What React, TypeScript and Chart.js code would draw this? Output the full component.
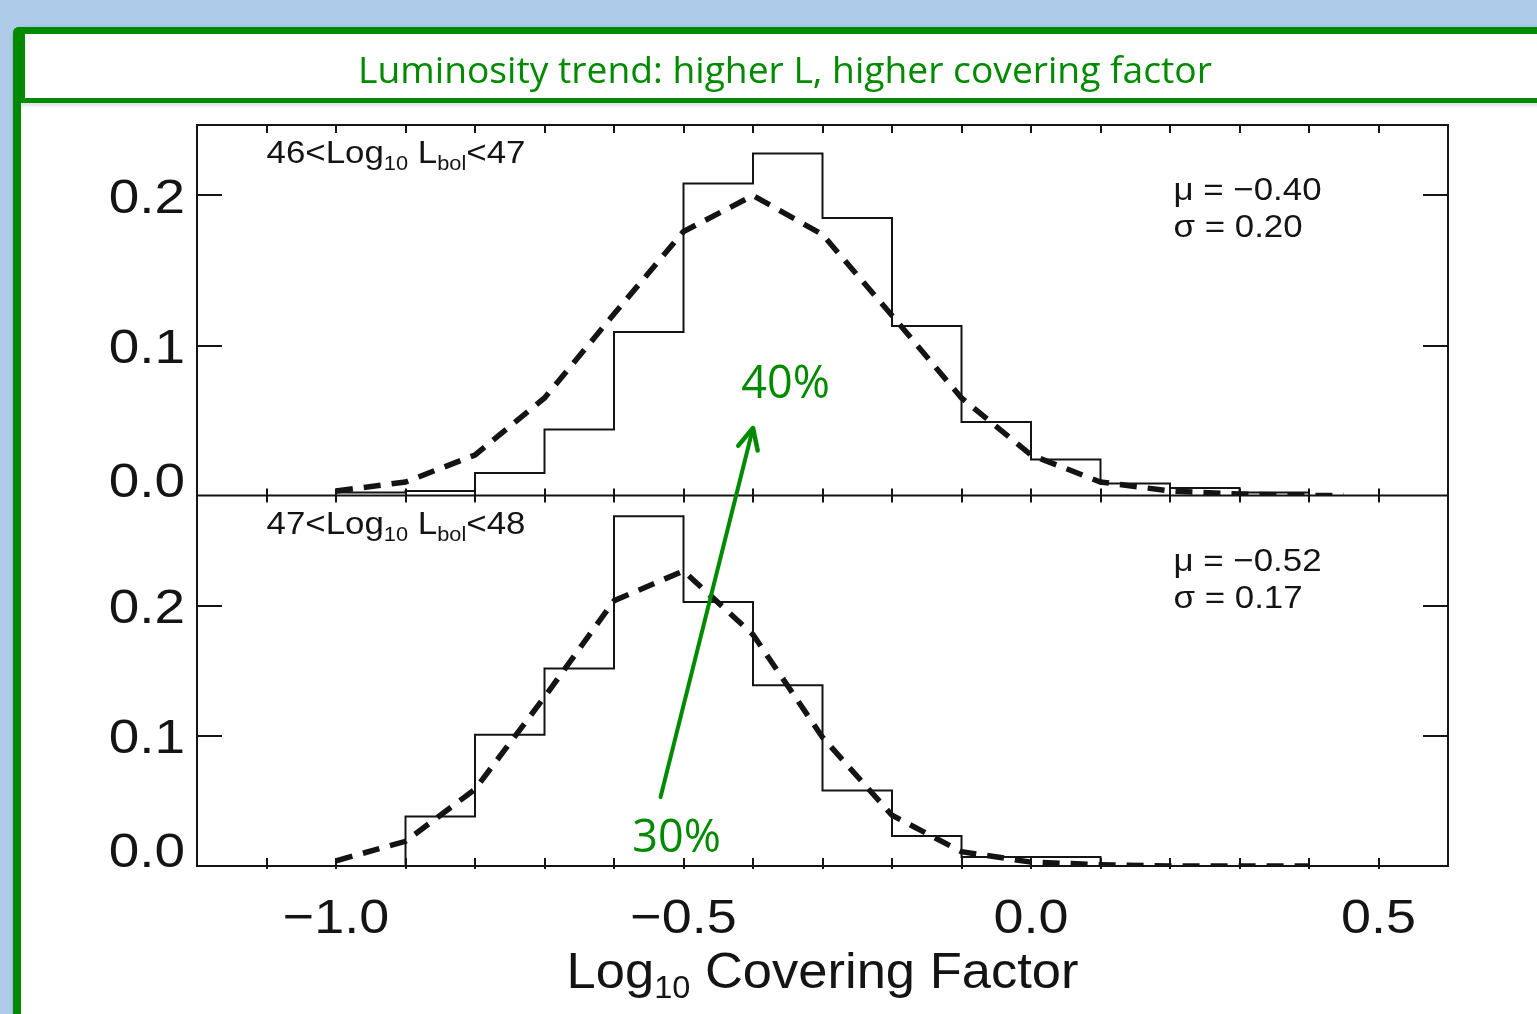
import React, { useEffect, useRef } from "react";
import { Chart, registerables } from "chart.js";

Chart.register(...registerables);

// ---------- axis ranges & ticks ----------
const X_MIN = -1.2;
const X_MAX = 0.6;
const X_MINOR_STEP = 0.1;
const Y_TOP_MAX = 0.247;
const Y_BOT_MAX = 0.285;
const X_TICK_VALUES = [-1.0, -0.5, 0.0, 0.5];
const X_TICK_LABELS = ["\u22121.0", "\u22120.5", "0.0", "0.5"];
const Y_TICK_VALUES = [0.0, 0.1, 0.2];
const Y_TICK_LABELS = ["0.0", "0.1", "0.2"];

// ---------- histograms (left bin edges, bin width 0.1) ----------
const BIN_WIDTH = 0.1;
const BIN_EDGES_TOP = [-1.0, -0.9, -0.8, -0.7, -0.6, -0.5, -0.4, -0.3, -0.2, -0.1, 0.0, 0.1, 0.2, 0.3];
const HIST_TOP = [0.002, 0.003, 0.015, 0.044, 0.109, 0.208, 0.228, 0.185, 0.113, 0.049, 0.024, 0.008, 0.005, 0.002];
const BIN_EDGES_BOT = [-0.9, -0.8, -0.7, -0.6, -0.5, -0.4, -0.3, -0.2, -0.1, 0.0];
const HIST_BOT = [0.038, 0.101, 0.152, 0.269, 0.203, 0.139, 0.058, 0.023, 0.007, 0.007];

// ---------- Gaussian fit curves (dashed) ----------
const CURVE_X_TOP = [-1.0, -0.9, -0.8, -0.7, -0.6, -0.5, -0.4, -0.3, -0.2, -0.1, 0.0, 0.1, 0.2, 0.3, 0.4, 0.45];
const CURVE_TOP = [0.003, 0.009, 0.027, 0.065, 0.121, 0.176, 0.2, 0.174, 0.12, 0.065, 0.027, 0.009, 0.003, 0.001, 0.0, 0.0];
const CURVE_X_BOT = [-1.0, -0.9, -0.8, -0.7, -0.6, -0.5, -0.4, -0.3, -0.2, -0.1, 0.0, 0.1, 0.2, 0.3, 0.4];
const CURVE_BOT = [0.004, 0.019, 0.059, 0.13, 0.204, 0.227, 0.178, 0.099, 0.039, 0.011, 0.003, 0.001, 0.0, 0.0, 0.0];

// ---------- texts ----------
const SLIDE_TITLE = "Luminosity trend: higher L, higher covering factor";
const PANEL_LABEL_TOP = [["46<Log", 0], ["10", 1], [" L", 0], ["bol", 1], ["<47", 0]];
const PANEL_LABEL_BOT = [["47<Log", 0], ["10", 1], [" L", 0], ["bol", 1], ["<48", 0]];
const STATS_TOP = ["\u03bc = \u22120.40", "\u03c3 = 0.20"];
const STATS_BOT = ["\u03bc = \u22120.52", "\u03c3 = 0.17"];
const AXIS_TITLE = [["Log", 0], ["10", 1], [" Covering Factor", 0]];
const PCT_TOP = "40%";
const PCT_BOT = "30%";
// annotation anchors in data units
const PCT_TOP_AT = { x: -0.353, y: 0.065 };
const PCT_BOT_AT = { x: -0.51, y: 0.011 };
const ARROW_FROM = { x: -0.533, y: 0.053 }; // bottom panel
const ARROW_TO = { x: -0.4, y: 0.045 }; // top panel
const STATS_X = 0.205;
const PANEL_LABEL_X = -1.1;

const GREEN = "#008A00";
const INK = "#141414";
const HELV = '"Liberation Sans", Arial, Helvetica, sans-serif';
const SLIDE_FONT = '"Open Sans", "Noto Sans", sans-serif';

function histPoints(edges: number[], vals: number[]) {
  const pts: { x: number; y: number }[] = [{ x: edges[0], y: 0 }];
  edges.forEach((e, i) => pts.push({ x: e, y: vals[i] }));
  pts.push({ x: edges[edges.length - 1] + BIN_WIDTH, y: 0 });
  return pts;
}

function stretchText(ctx: CanvasRenderingContext2D, text: string, x: number, y: number, sx: number, align: CanvasTextAlign) {
  ctx.save();
  ctx.translate(x, y);
  ctx.scale(sx, 1);
  ctx.textAlign = align;
  ctx.textBaseline = "alphabetic";
  ctx.fillText(text, 0, 0);
  ctx.restore();
}

function drawRich(ctx: CanvasRenderingContext2D, parts: any[], x: number, y: number, size: number, subSize: number, subDrop: number, align: string, sx: number) {
  let total = 0;
  const widths = parts.map(([t, sub]) => {
    ctx.font = `${sub ? subSize : size}px ${HELV}`;
    const w = ctx.measureText(t).width * sx;
    total += w;
    return w;
  });
  let cx = align === "center" ? x - total / 2 : x;
  parts.forEach(([t, sub], i) => {
    ctx.font = `${sub ? subSize : size}px ${HELV}`;
    stretchText(ctx, t, cx, y + (sub ? subDrop : 0), sx, "left");
    cx += widths[i];
  });
}

const decorPlugin = {
  id: "decor",
  afterDraw(chart: any) {
    const ctx: CanvasRenderingContext2D = chart.ctx;
    const xs = chart.scales.x;
    const yt = chart.scales.yTop;
    const yb = chart.scales.yBot;
    const L = xs.left, R = xs.right;
    const T = yt.top, M = yt.bottom, B = yb.bottom;
    ctx.save();

    // slide title
    ctx.font = `100px ${SLIDE_FONT}`;
    const tw = ctx.measureText(SLIDE_TITLE).width;
    const ts = (100 * 854) / tw;
    ctx.font = `${ts}px ${SLIDE_FONT}`;
    ctx.fillStyle = GREEN;
    ctx.textAlign = "center";
    ctx.textBaseline = "alphabetic";
    ctx.fillText(SLIDE_TITLE, 785, 83);

    // frames
    ctx.strokeStyle = INK;
    ctx.lineWidth = 2;
    ctx.strokeRect(L, T, R - L, B - T);
    ctx.beginPath();
    ctx.moveTo(L, M);
    ctx.lineTo(R, M);
    ctx.stroke();

    // x minor ticks
    const n = Math.round((X_MAX - X_MIN) / X_MINOR_STEP);
    ctx.beginPath();
    for (let k = 1; k < n; k++) {
      const px = Math.round(xs.getPixelForValue(X_MIN + k * X_MINOR_STEP));
      ctx.moveTo(px, T);
      ctx.lineTo(px, T + 8);
      ctx.moveTo(px, M - 7);
      ctx.lineTo(px, M + 7);
      ctx.moveTo(px, B - 8);
      ctx.lineTo(px, B + 3);
    }
    ctx.stroke();

    // y ticks
    ctx.beginPath();
    [yt, yb].forEach((ys: any) => {
      Y_TICK_VALUES.forEach((v) => {
        if (v === 0) return;
        const py = Math.round(ys.getPixelForValue(v));
        ctx.moveTo(L, py);
        ctx.lineTo(L + 25, py);
        ctx.moveTo(R - 25, py);
        ctx.lineTo(R, py);
      });
    });
    ctx.stroke();

    // y labels
    ctx.fillStyle = INK;
    ctx.font = `49px ${HELV}`;
    [yt, yb].forEach((ys: any) => {
      Y_TICK_VALUES.forEach((v, i) => {
        const py = ys.getPixelForValue(v);
        const base = v === 0 ? py + 1 : py + 17;
        stretchText(ctx, Y_TICK_LABELS[i], L - 12, base, 1.12, "right");
      });
    });

    // x labels
    X_TICK_VALUES.forEach((v, i) => {
      stretchText(ctx, X_TICK_LABELS[i], xs.getPixelForValue(v), B + 67, 1.1, "center");
    });

    // axis title
    drawRich(ctx, AXIS_TITLE, (L + R) / 2, B + 122, 50, 31, 10, "center", 1.05);

    // panel labels
    const plx = xs.getPixelForValue(PANEL_LABEL_X);
    drawRich(ctx, PANEL_LABEL_TOP, plx, T + 38, 32, 20, 7, "left", 1.09);
    drawRich(ctx, PANEL_LABEL_BOT, plx, M + 38, 32, 20, 7, "left", 1.09);

    // stats
    ctx.font = `32px ${HELV}`;
    const sx = xs.getPixelForValue(STATS_X);
    stretchText(ctx, STATS_TOP[0], sx, T + 75, 1.09, "left");
    stretchText(ctx, STATS_TOP[1], sx, T + 112, 1.09, "left");
    stretchText(ctx, STATS_BOT[0], sx, M + 75, 1.09, "left");
    stretchText(ctx, STATS_BOT[1], sx, M + 112, 1.09, "left");

    // green annotation
    ctx.fillStyle = GREEN;
    ctx.strokeStyle = GREEN;
    ctx.font = `45px ${SLIDE_FONT}`;
    ctx.textAlign = "center";
    ctx.fillText(PCT_TOP, xs.getPixelForValue(PCT_TOP_AT.x), yt.getPixelForValue(PCT_TOP_AT.y));
    ctx.fillText(PCT_BOT, xs.getPixelForValue(PCT_BOT_AT.x), yb.getPixelForValue(PCT_BOT_AT.y));

    const ax0 = xs.getPixelForValue(ARROW_FROM.x), ay0 = yb.getPixelForValue(ARROW_FROM.y);
    const ax1 = xs.getPixelForValue(ARROW_TO.x), ay1 = yt.getPixelForValue(ARROW_TO.y);
    const ang = Math.atan2(ay1 - ay0, ax1 - ax0);
    ctx.lineWidth = 4;
    ctx.lineCap = "round";
    ctx.lineJoin = "round";
    ctx.beginPath();
    ctx.moveTo(ax0, ay0);
    ctx.lineTo(ax1 - Math.cos(ang) * 2, ay1 - Math.sin(ang) * 2);
    ctx.stroke();
    const hl = 23, ha = 0.45;
    ctx.lineWidth = 4.5;
    ctx.beginPath();
    ctx.moveTo(ax1 - hl * Math.cos(ang - ha), ay1 - hl * Math.sin(ang - ha));
    ctx.lineTo(ax1, ay1);
    ctx.lineTo(ax1 - hl * Math.cos(ang + ha), ay1 - hl * Math.sin(ang + ha));
    ctx.stroke();

    ctx.restore();
  },
};

export default function App() {
  const ref = useRef<HTMLCanvasElement | null>(null);

  useEffect(() => {
    if (!ref.current) return;
    const chart = new Chart(ref.current, {
      type: "line",
      data: {
        datasets: [
          {
            label: "fit top",
            data: CURVE_X_TOP.map((x, i) => ({ x, y: CURVE_TOP[i] })),
            yAxisID: "yTop",
            borderColor: INK,
            borderWidth: 5.5,
            borderDash: [17, 11],
            pointRadius: 0,
            tension: 0,
            fill: false,
          },
          {
            label: "fit bottom",
            data: CURVE_X_BOT.map((x, i) => ({ x, y: CURVE_BOT[i] })),
            yAxisID: "yBot",
            borderColor: INK,
            borderWidth: 5.5,
            borderDash: [17, 11],
            pointRadius: 0,
            tension: 0,
            fill: false,
          },
          {
            label: "hist top",
            data: histPoints(BIN_EDGES_TOP, HIST_TOP),
            yAxisID: "yTop",
            borderColor: INK,
            borderWidth: 2,
            stepped: true,
            pointRadius: 0,
            fill: false,
          },
          {
            label: "hist bottom",
            data: histPoints(BIN_EDGES_BOT, HIST_BOT),
            yAxisID: "yBot",
            borderColor: INK,
            borderWidth: 2,
            stepped: true,
            pointRadius: 0,
            fill: false,
          },
        ],
      },
      options: {
        responsive: false,
        animation: false,
        layout: { padding: { left: 197, top: 125, right: 89, bottom: 148 } },
        scales: {
          x: { type: "linear", min: X_MIN, max: X_MAX, display: false },
          yBot: { type: "linear", position: "left", min: 0, max: Y_BOT_MAX, stack: "panels", stackWeight: 1, display: false },
          yTop: { type: "linear", position: "left", min: 0, max: Y_TOP_MAX, stack: "panels", stackWeight: 1, display: false },
        },
        plugins: { legend: { display: false }, tooltip: { enabled: false } },
      },
      plugins: [decorPlugin],
    } as any);
    return () => chart.destroy();
  }, []);

  return (
    <div style={{ position: "fixed", left: 0, top: 0, width: 1537, height: 1014, overflow: "hidden", background: "#AFCBEA" }}>
      <div
        style={{
          position: "absolute",
          left: 13,
          top: 27,
          width: 1600,
          height: 1100,
          background: "#fff",
          borderTop: `7px solid ${GREEN}`,
          borderLeft: `8px solid ${GREEN}`,
          borderTopLeftRadius: 6,
          boxSizing: "border-box",
          boxShadow: "1px 2px 4px rgba(0,0,0,0.3)",
        }}
      />
      <div
        style={{
          position: "absolute",
          left: 21,
          top: 34,
          width: 1600,
          height: 69,
          borderLeft: `4px solid ${GREEN}`,
          borderBottom: `5px solid ${GREEN}`,
          boxSizing: "border-box",
          boxShadow: "0px 3px 3px rgba(0,0,0,0.12)",
        }}
      />
      <canvas ref={ref} width={1537} height={1014} style={{ position: "absolute", left: 0, top: 0, width: 1537, height: 1014 }} />
    </div>
  );
}
